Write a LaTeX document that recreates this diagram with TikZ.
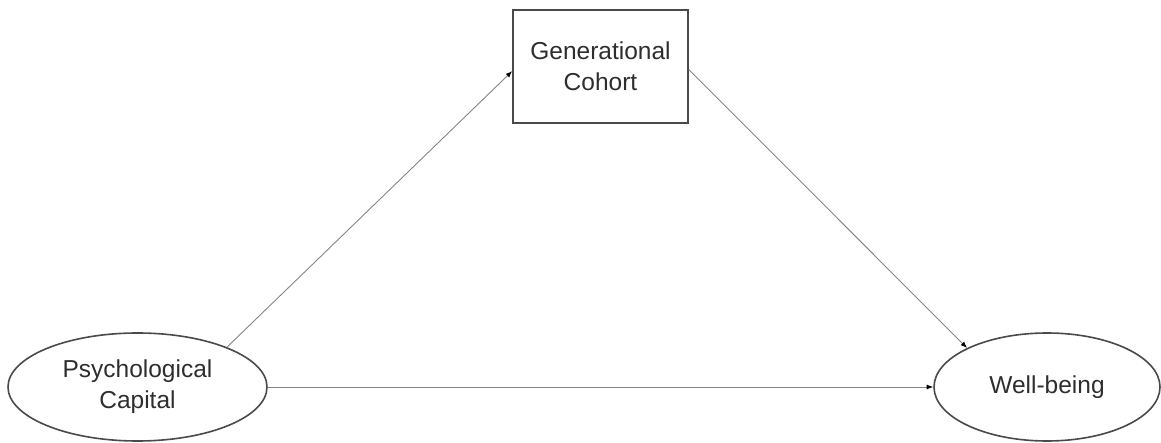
\documentclass[tikz,border=0pt]{standalone}
\usepackage{fontspec}
\setmainfont{Liberation Sans}
\usetikzlibrary{arrows.meta,shapes.geometric}
\definecolor{edgegray}{HTML}{4A4A4A}
\definecolor{linkgray}{HTML}{858585}
\definecolor{inkgray}{HTML}{2E2E2E}
\begin{document}
\begin{tikzpicture}[x=1pt,y=1pt,
  label text/.style={font=\fontsize{24.5}{31}\selectfont, text=inkgray, align=center},
  construct/.style={ellipse, draw=edgegray, line width=1.6pt, inner sep=0pt,
    minimum width=259pt, minimum height=108pt, label text},
  groupbox/.style={rectangle, draw=edgegray, line width=1.6pt, inner sep=0pt,
    minimum width=175pt, minimum height=113pt, label text},
  path link/.style={draw=linkgray, line width=0.9pt,
    -{Latex[length=6.5pt,width=5pt,color=black]}}]
  \useasboundingbox (0,0) rectangle (1161,-443);
  \node[groupbox]  (gc) at (600.5,-66.5) {Generational\\Cohort};
  \node[construct] (pc) at (137.5,-387) {Psychological\\Capital};
  \node[construct, minimum width=226pt] (wb) at (1047,-387) {Well-being};
  \draw[path link] (pc.24) -- (gc.183);
  \draw[path link] (gc.-2) -- (wb.154);
  \draw[path link] (pc.east) -- (wb.west);
\end{tikzpicture}
\end{document}
